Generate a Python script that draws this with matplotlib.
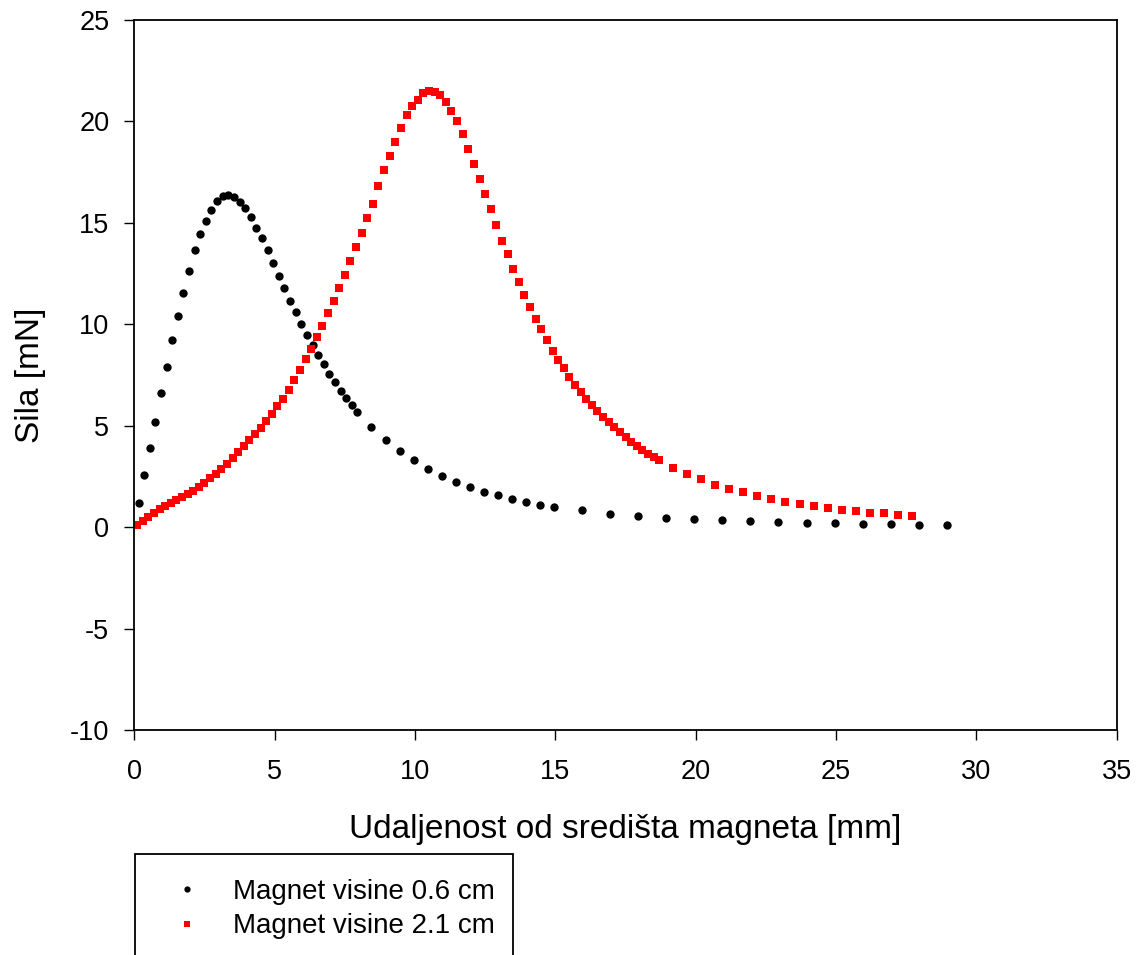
import matplotlib
matplotlib.use("Agg")
import matplotlib.pyplot as plt
from matplotlib.patches import Rectangle

plt.rcParams['font.family'] = ['Liberation Sans', 'DejaVu Sans']

# Magnet height 0.6 cm
x_small = [0.15, 0.35, 0.55, 0.75, 0.95, 1.15, 1.35, 1.55, 1.75, 1.95,
           2.15, 2.35, 2.55, 2.75, 2.95, 3.15, 3.35, 3.55, 3.75, 3.95,
           4.15, 4.35, 4.55, 4.75, 4.95, 5.15, 5.35, 5.55, 5.75, 5.95,
           6.15, 6.35, 6.55, 6.75, 6.95, 7.15, 7.35, 7.55, 7.75, 7.95,
           8.45, 8.95, 9.45, 9.95, 10.45, 10.95, 11.45, 11.95, 12.45, 12.95,
           13.45, 13.95, 14.45, 14.95,
           15.95, 16.95, 17.95, 18.95, 19.95, 20.95, 21.95, 22.95, 23.95, 24.95,
           25.95, 26.95, 27.95, 28.95]
y_small = [1.17, 2.59, 3.88, 5.18, 6.63, 7.88, 9.21, 10.42, 11.52, 12.63,
           13.66, 14.45, 15.11, 15.65, 16.09, 16.32, 16.35, 16.29, 16.03, 15.73,
           15.27, 14.75, 14.23, 13.64, 13.00, 12.36, 11.77, 11.16, 10.62, 10.03,
           9.49, 8.99, 8.49, 8.02, 7.57, 7.14, 6.73, 6.38, 6.02, 5.69,
           4.94, 4.31, 3.76, 3.29, 2.87, 2.54, 2.24, 1.98, 1.75, 1.57,
           1.37, 1.24, 1.11, 0.98,
           0.83, 0.67, 0.55, 0.45, 0.38, 0.33, 0.28, 0.23, 0.21, 0.19,
           0.16, 0.16, 0.12, 0.11]

# Magnet height 2.1 cm
x_large = [0.1, 0.3, 0.5, 0.7, 0.9, 1.1, 1.3, 1.5, 1.7, 1.9,
           2.1, 2.3, 2.5, 2.7, 2.9, 3.1, 3.3, 3.5, 3.7, 3.9,
           4.1, 4.3, 4.5, 4.7, 4.9, 5.1, 5.3, 5.5, 5.7, 5.9,
           6.1, 6.3, 6.5, 6.7, 6.9, 7.1, 7.3, 7.5, 7.7, 7.9,
           8.1, 8.3, 8.5, 8.7, 8.9, 9.1, 9.3, 9.5, 9.7, 9.9,
           10.1, 10.3, 10.5, 10.7, 10.9, 11.1, 11.3, 11.5, 11.7, 11.9,
           12.1, 12.3, 12.5, 12.7, 12.9, 13.1, 13.3, 13.5, 13.7, 13.9,
           14.1, 14.3, 14.5, 14.7, 14.9, 15.1, 15.3, 15.5, 15.7, 15.9,
           16.1, 16.3, 16.5, 16.7, 16.9, 17.1, 17.3, 17.5, 17.7, 17.9,
           18.1, 18.3, 18.5, 18.7,
           19.2, 19.7, 20.2, 20.7, 21.2, 21.7, 22.2, 22.7, 23.2, 23.7,
           24.2, 24.7, 25.2, 25.7, 26.2, 26.7, 27.2, 27.7]
y_large = [0.12, 0.32, 0.52, 0.71, 0.90, 1.06, 1.19, 1.34, 1.47, 1.64,
           1.80, 1.98, 2.18, 2.41, 2.62, 2.87, 3.13, 3.41, 3.69, 3.98,
           4.28, 4.57, 4.89, 5.23, 5.59, 5.95, 6.32, 6.76, 7.25, 7.74,
           8.27, 8.76, 9.35, 9.94, 10.56, 11.16, 11.77, 12.43, 13.12, 13.79,
           14.51, 15.22, 15.94, 16.80, 17.60, 18.29, 18.98, 19.66, 20.30, 20.74,
           21.08, 21.38, 21.48, 21.45, 21.28, 20.97, 20.53, 20.02, 19.38, 18.64,
           17.92, 17.18, 16.42, 15.70, 14.91, 14.12, 13.45, 12.74, 12.09, 11.44,
           10.87, 10.28, 9.75, 9.24, 8.70, 8.26, 7.83, 7.42, 7.02, 6.66,
           6.33, 6.04, 5.73, 5.43, 5.16, 4.92, 4.67, 4.43, 4.20, 3.98,
           3.80, 3.61, 3.44, 3.31,
           2.93, 2.60, 2.36, 2.09, 1.88, 1.72, 1.54, 1.39, 1.26, 1.14,
           1.03, 0.95, 0.86, 0.78, 0.71, 0.68, 0.62, 0.57]

x_ticks = [0, 5, 10, 15, 20, 25, 30, 35]
y_ticks = [-10, -5, 0, 5, 10, 15, 20, 25]
label_small = "Magnet visine 0.6 cm"
label_large = "Magnet visine 2.1 cm"
x_label = "Udaljenost od središta magneta [mm]"
y_label = "Sila [mN]"

fig = plt.figure(figsize=(11.44, 9.55), dpi=100)
ax = fig.add_axes([134.3 / 1144, 1 - 730 / 955, (1116.7 - 134.3) / 1144, (730 - 20) / 955])

h1, = ax.plot(x_small, y_small, linestyle='none', marker='o', markersize=6.0,
              color='black', markeredgewidth=0)
h2, = ax.plot(x_large, y_large, linestyle='none', marker='s', markersize=6.2,
              color='#ff0000', markeredgewidth=0)

ax.set_xlim(0, 35)
ax.set_ylim(-10, 25)
ax.set_xticks(x_ticks)
ax.set_yticks(y_ticks)
ax.set_xticklabels([str(v) for v in x_ticks])
ax.set_yticklabels([str(v) for v in y_ticks])
ax.tick_params(axis='both', direction='out', length=7, width=1.0,
               labelsize=19.5, top=False, right=False)
ax.tick_params(axis='x', pad=14)
ax.tick_params(axis='y', pad=11)
for s in ax.spines.values():
    s.set_linewidth(1.3)

ax.set_xlabel(x_label, fontsize=24, labelpad=21)
ax.set_ylabel(y_label, fontsize=24, labelpad=17)

# legend box extending past figure bottom
rect = Rectangle((134.7 / 1144, -0.05), (512.7 - 134.7) / 1144, (1 - 854.3 / 955) + 0.05,
                 transform=fig.transFigure, fill=False, edgecolor='black',
                 linewidth=1.3, clip_on=False)
fig.patches.append(rect)
leg = fig.legend([h1, h2], [label_small, label_large], loc='upper left',
                 bbox_to_anchor=(161.7 / 1144, 1 - 868 / 955), frameon=False,
                 fontsize=20, markerscale=0.75, handlelength=1.0,
                 handletextpad=1.17, labelspacing=0.3, borderaxespad=0)

fig.savefig("out.png", dpi=100)
